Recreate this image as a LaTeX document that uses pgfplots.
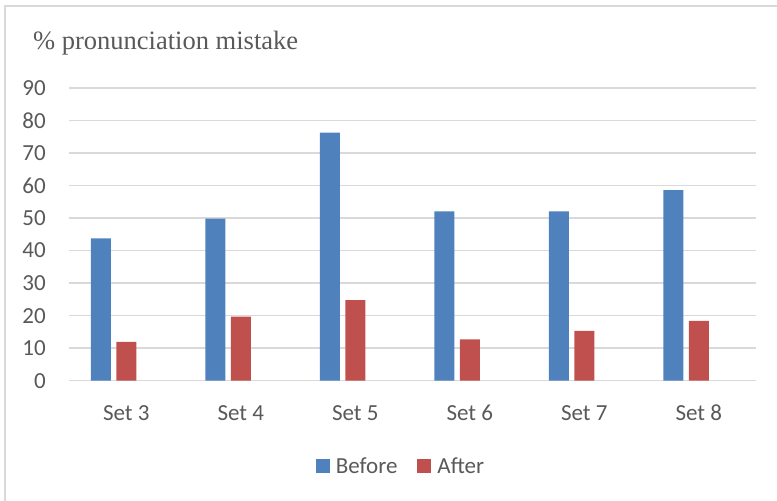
\documentclass[border=0pt]{standalone}
\usepackage{pgfplots}
\pgfplotsset{compat=1.18}
\usepackage{fontspec}
\setmainfont{Carlito}
\newfontfamily\titlefont{Liberation Serif}
\definecolor{cblue}{HTML}{4F81BD}
\definecolor{cred}{HTML}{C0504D}
\definecolor{gridc}{HTML}{D9D9D9}
\definecolor{txt}{HTML}{595959}
\begin{document}
\begin{tikzpicture}[x=1pt,y=1pt]
\useasboundingbox (0,0) rectangle (777,501);
\draw[gridc, line width=1.5pt] (5,0) -- (5,495) -- (777,495);
\node[anchor=base west, text=txt, font=\titlefont\fontsize{26.5}{30}\selectfont, inner sep=0pt] at (33,451) {\% pronunciation mistake};
\begin{axis}[
  at={(69pt,120.3pt)}, anchor=south west,
  scale only axis, width=687pt, height=292.7pt,
  xmin=-0.5, xmax=5.5, ymin=0, ymax=90,
  axis line style={draw=none},
  major tick length=0pt,
  ymajorgrids, grid style={gridc, line width=1.5pt},
  ytick={0,10,...,90},
  xtick={0,1,2,3,4,5},
  xticklabels={Set 3,Set 4,Set 5,Set 6,Set 7,Set 8},
  /pgf/number format/assume math mode=true,
  tick label style={font=\fontsize{23}{27}\selectfont, text=txt},
  yticklabel style={anchor=east, inner sep=0pt, xshift=-23pt},
  xticklabel style={anchor=base, inner sep=0pt, yshift=-40pt},
  legend style={at={(0.4818,-0.2914)}, anchor=center, draw=none, fill=none,
    legend columns=2, font=\fontsize{23}{27}\selectfont, text=txt,
    nodes={inner sep=0pt},
    /tikz/every odd column/.append style={column sep=6pt},
    /tikz/every even column/.append style={column sep=20pt},
    legend cell align=left},
  legend image code/.code={\fill[#1] (0pt,-7pt) rectangle (14pt,7pt);},
]
\addplot[ybar, bar width=20pt, bar shift=-25.3pt, fill=cblue, draw=none]
  coordinates {(0,43.8) (1,49.8) (2,76.3) (3,52.1) (4,52.1) (5,58.6)};
\addplot[ybar, bar width=20pt, bar shift=0pt, fill=cred, draw=none]
  coordinates {(0,11.9) (1,19.7) (2,24.8) (3,12.7) (4,15.3) (5,18.4)};
\legend{Before, After}
\end{axis}
\end{tikzpicture}
\end{document}
